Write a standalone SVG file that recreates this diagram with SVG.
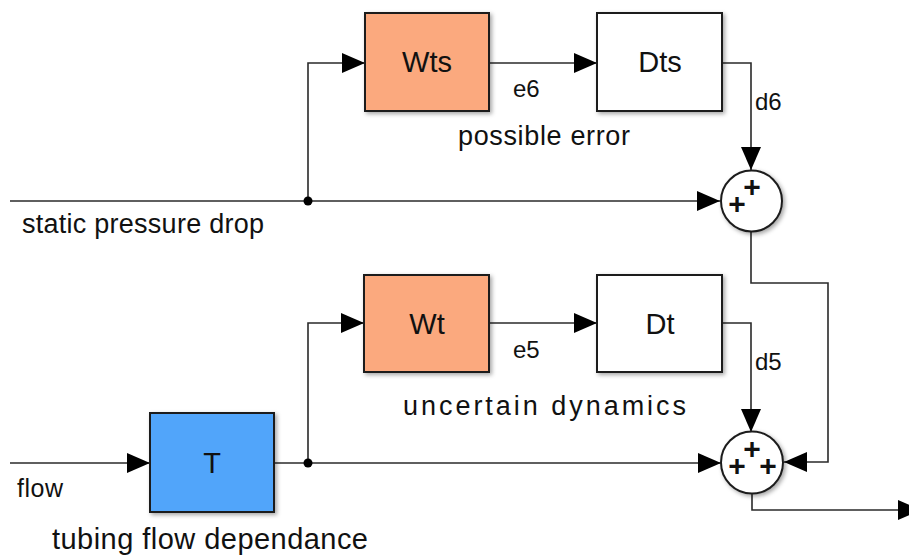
<svg xmlns="http://www.w3.org/2000/svg" width="909" height="556" viewBox="0 0 909 556">
  <defs>
    <style>
      text { font-family: "Liberation Sans", Arial, sans-serif; fill: #111; }
      .blk { stroke: #1e1e1e; stroke-width: 2; }
      .lbl { font-size: 29px; text-anchor: middle; }
      .sig { font-size: 24px; }
      .note { font-size: 27px; }
      .plus { font-size: 30px; font-weight: bold; text-anchor: middle; }
      .wire { fill: none; stroke: #2a2a2a; stroke-width: 1.6; }
    </style>
    <filter id="shadow" x="-20%" y="-20%" width="140%" height="140%">
      <feDropShadow dx="2" dy="2" stdDeviation="2" flood-color="#000" flood-opacity="0.35"/>
    </filter>
    <marker id="arrow" markerUnits="userSpaceOnUse" markerWidth="24" markerHeight="22" refX="23" refY="11" orient="auto">
      <path d="M0,1 L23,11 L0,21 Z" fill="#000"/>
    </marker>
  </defs>

  <!-- signal wires -->
  <g id="connectors" class="wire">
    <path d="M10,201 H720" marker-end="url(#arrow)"/>
    <path d="M308,201 V63 H365" marker-end="url(#arrow)"/>
    <path d="M489,63 H597" marker-end="url(#arrow)"/>
    <path d="M722,63 H751 V170" marker-end="url(#arrow)"/>
    <path d="M751,232 V283 H828 V462 H784" marker-end="url(#arrow)"/>
    <path d="M10,463 H150" marker-end="url(#arrow)"/>
    <path d="M274,463 H721" marker-end="url(#arrow)"/>
    <path d="M308,463 V323 H364" marker-end="url(#arrow)"/>
    <path d="M489,323 H597" marker-end="url(#arrow)"/>
    <path d="M722,323 H751 V432" marker-end="url(#arrow)"/>
    <path d="M752,493 V510 H921" marker-end="url(#arrow)"/>
    <circle cx="308" cy="201" r="4.5" fill="#000" stroke="none"/>
    <circle cx="308" cy="463" r="4.5" fill="#000" stroke="none"/>
  </g>

  <!-- weighting blocks and dynamics -->
  <g id="Wts">
    <rect x="365" y="13" width="124" height="98" fill="#FBA97E" class="blk" filter="url(#shadow)"/>
    <text x="427" y="72" class="lbl">Wts</text>
  </g>
  <g id="Dts">
    <rect x="597" y="13" width="125" height="98" fill="#fff" class="blk" filter="url(#shadow)"/>
    <text x="660" y="72" class="lbl">Dts</text>
  </g>
  <g id="Wt">
    <rect x="364" y="275" width="125" height="97" fill="#FBA97E" class="blk" filter="url(#shadow)"/>
    <text x="427" y="334" class="lbl">Wt</text>
  </g>
  <g id="Dt">
    <rect x="597" y="275" width="125" height="97" fill="#fff" class="blk" filter="url(#shadow)"/>
    <text x="660" y="334" class="lbl">Dt</text>
  </g>
  <g id="T">
    <rect x="150" y="413" width="124" height="99" fill="#51A5FA" class="blk" filter="url(#shadow)"/>
    <text x="212" y="473" class="lbl">T</text>
  </g>

  <!-- summing junctions: input signs set as one text run -->
  <g id="sum1">
    <circle cx="751.5" cy="201" r="30.5" fill="#fff" class="blk" filter="url(#shadow)"/>
    <text class="plus"><tspan x="752" y="197">+</tspan><tspan x="737" y="214">+</tspan></text>
  </g>
  <g id="sum2">
    <circle cx="752" cy="462.5" r="31" fill="#fff" class="blk" filter="url(#shadow)"/>
    <text class="plus"><tspan x="752" y="459">+</tspan><tspan x="737" y="476">+</tspan><tspan x="768" y="476">+</tspan></text>
  </g>

  <!-- signal names and annotations -->
  <g id="labels">
    <text x="513" y="97" class="sig">e6</text>
    <text x="755" y="110" class="sig">d6</text>
    <text x="513" y="358" class="sig">e5</text>
    <text x="755" y="370" class="sig">d5</text>
    <text x="458" y="145" class="note" textLength="172" lengthAdjust="spacing">possible error</text>
    <text x="22" y="233" class="note" textLength="242" lengthAdjust="spacing">static pressure drop</text>
    <text x="403" y="415" class="note" textLength="283" lengthAdjust="spacing">uncertain dynamics</text>
    <text x="17" y="497" class="note" style="font-size:25px" textLength="46" lengthAdjust="spacing">flow</text>
    <text x="52" y="549" class="note" style="font-size:29px" textLength="316" lengthAdjust="spacing">tubing flow dependance</text>
  </g>
</svg>
